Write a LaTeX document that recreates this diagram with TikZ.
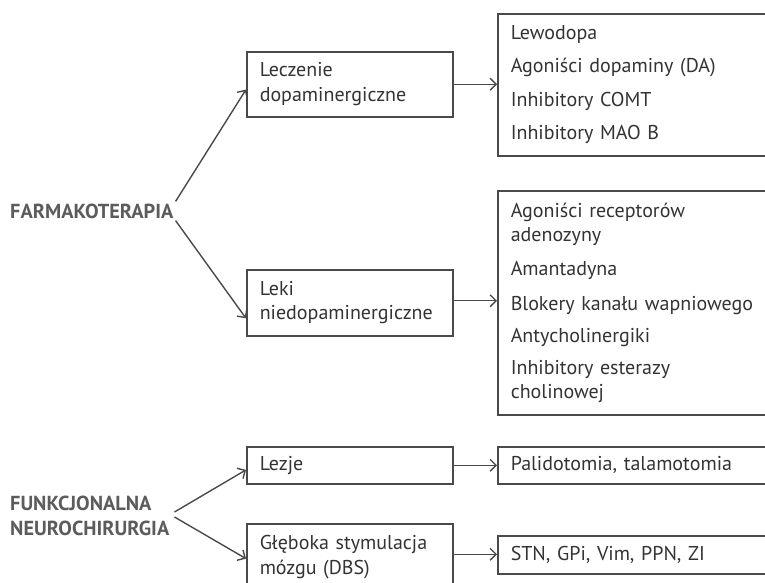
\documentclass[tikz,border=0pt]{standalone}
\usepackage{fontspec}
\setmainfont{PT Sans}
\usetikzlibrary{arrows.meta,calc}
\definecolor{linec}{HTML}{4A4A4A}
\definecolor{txtc}{HTML}{333333}
\definecolor{headc}{HTML}{5C5C5C}
\begin{document}
\begin{tikzpicture}[x=1pt,y=-1pt,
  box/.style={draw=linec,line width=1.5pt,rectangle,inner xsep=13pt,inner ysep=0pt,
    align=left,text=txtc,font=\fontsize{20}{24.5}\selectfont,anchor=north west},
  arr/.style={draw=linec,line width=1.4pt,-{Straight Barb[length=6pt,width=12pt]}},
  head/.style={text=headc,font=\bfseries\fontsize{20.3}{25}\selectfont,align=left,
    anchor=west,inner sep=2pt}]
\useasboundingbox (0,0) rectangle (765,582);
\clip (0,0) rectangle (765,582);
% left headings
\node[head] (farma) at (8,211) {FARMAKOTERAPIA};
\node[head] (funk) at (8,516) {FUNKCJONALNA\\NEUROCHIRURGIA};
% middle boxes
\node[box,text width=180pt,minimum height=65pt] (lecz) at (246,51) {Leczenie\\dopaminergiczne};
\node[box,text width=180pt,minimum height=66pt] (leki) at (246,269) {Leki\\niedopaminergiczne};
\node[box,text width=180pt,minimum height=37pt] (lezje) at (246,446) {Lezje};
\node[box,text width=180pt,minimum height=67pt] (dbs) at (246,523) {Głęboka stymulacja\\mózgu (DBS)};
% right boxes
\node[box,text width=300pt,minimum height=142pt] (r1) at (497,13)
  {Lewodopa\\[9pt]Agoniści dopaminy (DA)\\[9pt]Inhibitory COMT\\[9pt]Inhibitory MAO B};
\node[box,text width=300pt,minimum height=224pt] (r2) at (497,190)
  {Agoniści receptorów\\adenozyny\\[9.5pt]Amantadyna\\[10pt]Blokery kanału wapniowego\\[7.5pt]Antycholinergiki\\[7.5pt]Inhibitory esterazy\\cholinowej};
\node[box,text width=300pt,minimum height=37pt] (palido) at (497,446) {Palidotomia, talamotomia};
\node[box,text width=300pt,minimum height=38pt] (stn) at (497,535) {STN, GPi, Vim, PPN, ZI};
% connectors
\draw[arr] (farma.north east) -- ($(lecz.south west)!0.42!(lecz.north west)$);
\draw[arr] (farma.south east) -- ($(leki.south west)!0.27!(leki.north west)$);
\draw[arr] ($(funk.east)+(3,-4)$) -- ($(lezje.south west)!0.38!(lezje.north west)$);
\draw[arr] ($(funk.east)+(3,1)$) -- ($(dbs.south west)!0.48!(dbs.north west)$);
\draw[arr] (lecz.east) -- (lecz.east -| r1.west);
\draw[arr] ($(leki.east)+(0,-2)$) -- ($(leki.east -| r2.west)+(0,-2)$);
\draw[arr] (lezje.east) -- (lezje.east -| palido.west);
\draw[arr] ($(dbs.east)+(0,-3)$) -- ($(dbs.east -| stn.west)+(0,-3)$);
\end{tikzpicture}
\end{document}
